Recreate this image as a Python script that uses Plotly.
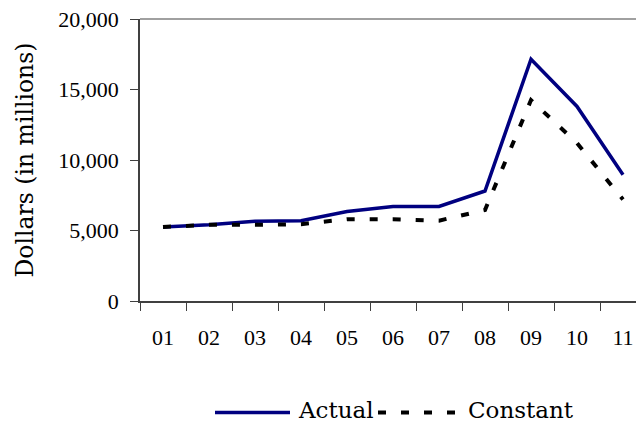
import plotly.graph_objects as go

categories = ["01", "02", "03", "04", "05", "06", "07", "08", "09", "10", "11"]
actual = [5250, 5400, 5650, 5700, 6350, 6700, 6700, 7800, 17150, 13800, 8950]
constant = [5250, 5400, 5400, 5450, 5800, 5800, 5700, 6450, 14250, 11200, 7200]
y_ticks = [0, 5000, 10000, 15000, 20000]

W, H = 636, 426
L, R, T, B = 140, 0, 19, 125
pw, ph = W - L - R, H - T - B
CAT_W = 46  # pixel width of one category in the reference

def px(x):
    return (x - L) / pw

def py(y):
    return (H - B - y) / ph

TICK_FONT = "Liberation Serif"
TEXT_FONT = "DejaVu Serif"
NAVY = "#000080"

fig = go.Figure()
fig.add_trace(go.Scatter(x=categories, y=actual, mode="lines", name="Actual",
                         line=dict(color=NAVY, width=3.5)))
fig.add_trace(go.Scatter(x=categories, y=constant, mode="lines", name="Constant",
                         line=dict(color="black", width=4, dash="8px,15px")))

n = len(categories)
overflow = (L + n * CAT_W - W) / CAT_W
fig.update_layout(
    width=W, height=H,
    margin=dict(l=L, r=R, t=T, b=B, pad=0),
    paper_bgcolor="white", plot_bgcolor="white",
    showlegend=False,
    font=dict(family=TICK_FONT, size=22, color="black"),
    xaxis=dict(type="category", range=[-0.5, n - 0.5 - overflow],
               tickson="boundaries", ticks="outside", ticklen=8, tickwidth=1,
               tickcolor="#404040", showline=True, linecolor="#404040", linewidth=1.5,
               showgrid=False, zeroline=False, tickfont=dict(size=22),
               ticklabelstandoff=16),
    yaxis=dict(range=[0, 20000], tickvals=y_ticks, tickformat=",", ticks="outside",
               ticklen=8, tickwidth=1, tickcolor="#404040", showline=True,
               linecolor="#404040", linewidth=1.5, showgrid=False, zeroline=False,
               tickfont=dict(size=22), ticklabelstandoff=7,
               title=dict(text="Dollars (in millions)",
                          font=dict(family=TEXT_FONT, size=23.5), standoff=18)),
)

# top border of the plot area
fig.add_shape(type="line", xref="paper", yref="paper", x0=0, x1=1, y0=1, y1=1,
              line=dict(color="#808080", width=1.5))

# custom legend
ly = py(412.5)
fig.add_shape(type="line", xref="paper", yref="paper", x0=px(215), x1=px(290), y0=ly, y1=ly,
              line=dict(color=NAVY, width=3.5))
fig.add_shape(type="line", xref="paper", yref="paper", x0=px(378), x1=px(462), y0=ly, y1=ly,
              line=dict(color="black", width=4, dash="8px,15px"))
fig.add_annotation(xref="paper", yref="paper", x=px(296), y=py(410), text="Actual",
                   showarrow=False, xanchor="left", yanchor="middle",
                   font=dict(family=TEXT_FONT, size=23))
fig.add_annotation(xref="paper", yref="paper", x=px(466), y=py(410), text="Constant",
                   showarrow=False, xanchor="left", yanchor="middle",
                   font=dict(family=TEXT_FONT, size=23))

fig.write_html("out.html")
